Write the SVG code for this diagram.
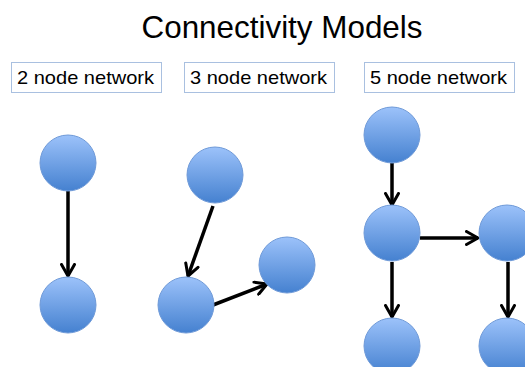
<svg xmlns="http://www.w3.org/2000/svg" width="525" height="367" viewBox="0 0 525 367">
<defs>
<linearGradient id="g" x1="0" y1="0" x2="0" y2="1">
<stop offset="0" stop-color="#9cc2fa"/>
<stop offset="1" stop-color="#4581d0"/>
</linearGradient>
<marker id="arr" viewBox="0 0 16 16" refX="13.5" refY="8" markerWidth="16" markerHeight="16" markerUnits="userSpaceOnUse" orient="auto">
<path d="M2,1.5 L13.5,8 L2,14.5" fill="none" stroke="#000" stroke-width="3" stroke-linecap="round" stroke-linejoin="round"/>
</marker>
</defs>
<style>
.n{fill:url(#g);stroke:#6f9ad8;stroke-width:1}
.e{stroke:#000;stroke-width:3.5;fill:none;marker-end:url(#arr)}
.lb{fill:#fff;stroke:#a9c0e0;stroke-width:1}
.t{font-family:"Liberation Sans",Arial,sans-serif;fill:#000}
</style>
<rect width="525" height="367" fill="#fff"/>
<text class="t" x="282" y="38" font-size="32" text-anchor="middle" textLength="281" lengthAdjust="spacingAndGlyphs">Connectivity Models</text>
<g id="label2">
<rect class="lb" x="11.5" y="62.5" width="150" height="30"/>
<text class="t" x="17" y="84" font-size="19" textLength="137" lengthAdjust="spacingAndGlyphs">2 node network</text>
</g>
<g id="label3">
<rect class="lb" x="184.5" y="62.5" width="150" height="30"/>
<text class="t" x="190" y="84" font-size="19" textLength="137" lengthAdjust="spacingAndGlyphs">3 node network</text>
</g>
<g id="label5">
<rect class="lb" x="364.5" y="62.5" width="150" height="30"/>
<text class="t" x="370" y="84" font-size="19" textLength="137" lengthAdjust="spacingAndGlyphs">5 node network</text>
</g>
<g id="connectors">
<line class="e" x1="68" y1="191" x2="68" y2="276"/>
<line class="e" x1="213" y1="206" x2="188" y2="276"/>
<line class="e" x1="213" y1="305" x2="267" y2="284"/>
<line class="e" x1="392" y1="163" x2="392" y2="205"/>
<line class="e" x1="420" y1="238" x2="478" y2="238"/>
<line class="e" x1="392" y1="262" x2="392" y2="317"/>
<line class="e" x1="508" y1="262" x2="508" y2="317"/>
</g>
<g id="a1"><circle class="n" cx="68" cy="163" r="28"/></g>
<g id="a2"><circle class="n" cx="68" cy="305" r="28"/></g>
<g id="b1"><circle class="n" cx="215" cy="175" r="28"/></g>
<g id="b2"><circle class="n" cx="186" cy="305" r="28"/></g>
<g id="b3"><circle class="n" cx="287" cy="265" r="28"/></g>
<g id="c1"><circle class="n" cx="392" cy="135" r="28"/></g>
<g id="c2"><circle class="n" cx="392" cy="233" r="28"/></g>
<g id="c3"><circle class="n" cx="507" cy="233" r="28"/></g>
<g id="c4"><circle class="n" cx="392" cy="346" r="28"/></g>
<g id="c5"><circle class="n" cx="507" cy="346" r="28"/></g>
</svg>
